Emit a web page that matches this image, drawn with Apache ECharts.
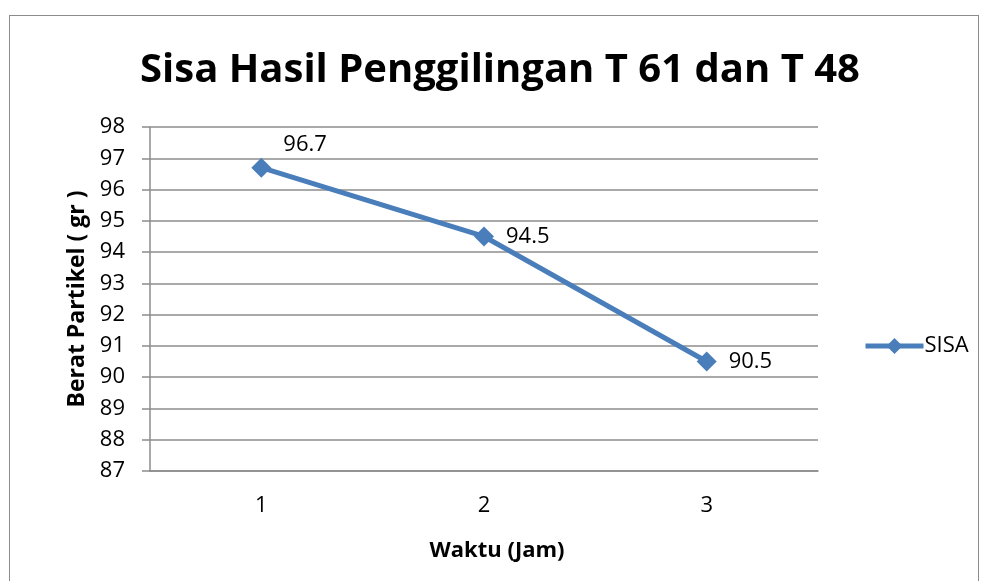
<!DOCTYPE html>
<html>
<head>
<meta charset="utf-8">
<script src="https://cdn.jsdelivr.net/npm/echarts@6/dist/echarts.min.js"></script>
<style>
html, body { margin: 0; padding: 0; background: #fff; }
#frame { position: absolute; left: 9px; top: 15px; width: 970px; height: 580px; border: 1px solid #8c8c8c; box-sizing: border-box; }
#chart { position: absolute; left: 0; top: 0; width: 982px; height: 581px; }
</style>
</head>
<body>
<div id="frame"></div>
<div id="chart"></div>
<script>
var waktu = ['1', '2', '3'];
var sisa = [96.7, 94.5, 90.5];
var yMin = 87, yMax = 98;

var chart = echarts.init(document.getElementById('chart'));
var font = '"Open Sans", "Liberation Sans", sans-serif';
var option = {
	title: {
		text: 'Sisa Hasil Penggilingan T 61 dan T 48',
		left: 495, top: 46, textAlign: 'center',
		textStyle: { fontFamily: font, fontSize: 40, fontWeight: 'bold', color: '#000' }
	},
	legend: {
		data: ['SISA'],
		left: 858, top: 330,
		itemWidth: 58, itemHeight: 20, itemGap: 2,
		lineStyle: { width: 5 },
		textStyle: { fontFamily: font, fontSize: 22, color: '#000', padding: [0, 0, 0, -4] }
	},
	grid: { left: 150, right: 164, top: 127, bottom: 110 },
	xAxis: {
		type: 'category',
		data: waktu,
		name: 'Waktu (Jam)',
		nameLocation: 'middle', nameGap: 69,
		nameTextStyle: { fontFamily: font, fontSize: 22, fontWeight: 'bold', color: '#000', padding: [0, 0, 0, 26] },
		axisLine: { lineStyle: { color: '#8c8c8c', width: 1.5 } },
		axisTick: { show: false },
		axisLabel: { fontFamily: font, fontSize: 22, color: '#000', margin: 24 }
	},
	yAxis: {
		type: 'value',
		min: yMin, max: yMax, interval: 1,
		name: 'Berat Partikel ( gr )',
		nameLocation: 'middle', nameGap: 60,
		nameTextStyle: { fontFamily: font, fontSize: 23, fontWeight: 'bold', color: '#000' },
		axisLine: { show: true, lineStyle: { color: '#8c8c8c', width: 1.5 } },
		axisTick: { show: true, length: 8, lineStyle: { color: '#8c8c8c', width: 1.5 } },
		splitLine: { lineStyle: { color: '#8c8c8c', width: 1.5 } },
		axisLabel: { fontFamily: font, fontSize: 22, color: '#000', margin: 25 }
	},
	series: [{
		name: 'SISA',
		type: 'line',
		data: sisa,
		symbol: 'diamond',
		symbolSize: 20,
		lineStyle: { color: '#4a7ebb', width: 5 },
		itemStyle: { color: '#4a7ebb' },
		label: {
			show: true, position: 'right', distance: 12,
			fontFamily: font, fontSize: 22, color: '#000'
		},
		labelLayout: function (p) {
			if (p.dataIndex === 0) return { dy: -23 };
			return {};
		}
	}]
};
chart.setOption(option);
</script>
</body>
</html>
